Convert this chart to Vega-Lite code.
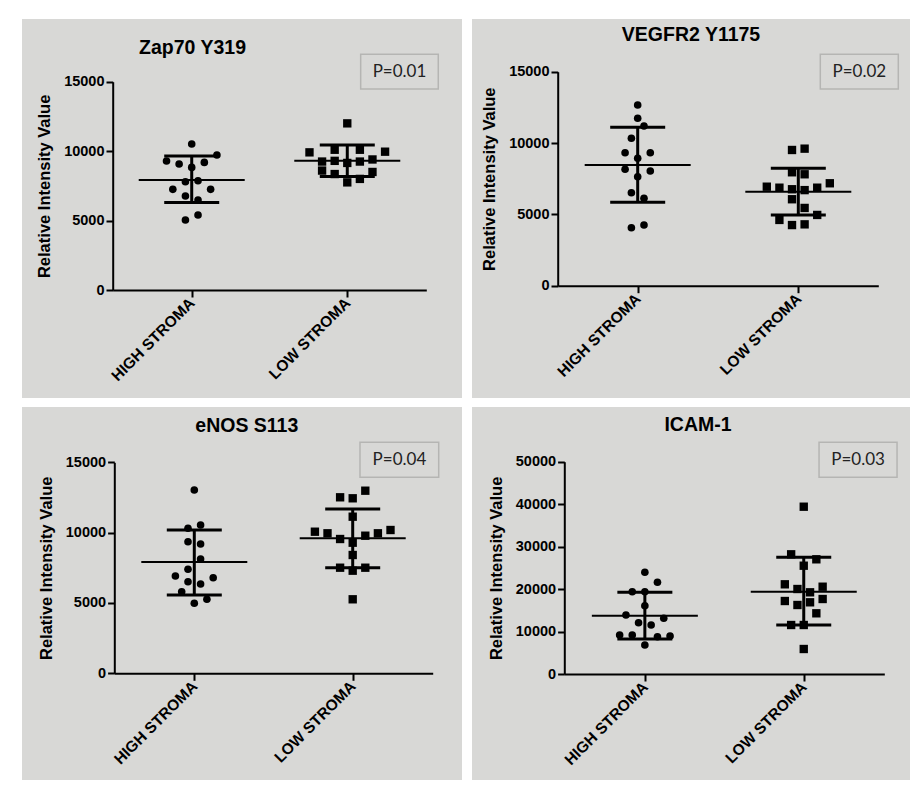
{
"$schema": "https://vega.github.io/schema/vega-lite/v6.json",
"background": "white",
"padding": {"left": 22, "top": 19, "right": 12, "bottom": 18},
"autosize": {"type": "pad"},
"config": {
  "view": {"fill": "#d8d8d6", "stroke": null},
  "font": "Liberation Sans",
  "axis": {"grid": false, "domainColor": "#000", "domainWidth": 2, "tickColor": "#000", "tickWidth": 2, "labelColor": "#000", "labelFont": "Liberation Sans", "labelFontWeight": "bold", "labelFontSize": 14.5, "titleFont": "Liberation Sans", "titleFontWeight": "bold", "titleColor": "#000"},
  "title": {"font": "Liberation Sans", "fontWeight": "bold", "fontSize": 19.5, "color": "#000", "anchor": "middle", "frame": "group", "baseline": "alphabetic"}
},
"datasets": {
  "points": [
    {"panel": "zap", "group": "HIGH STROMA", "value": 10510, "slot": 0},
    {"panel": "zap", "group": "HIGH STROMA", "value": 9720, "slot": 4},
    {"panel": "zap", "group": "HIGH STROMA", "value": 9290, "slot": -4},
    {"panel": "zap", "group": "HIGH STROMA", "value": 9070, "slot": -2},
    {"panel": "zap", "group": "HIGH STROMA", "value": 9190, "slot": 2},
    {"panel": "zap", "group": "HIGH STROMA", "value": 8830, "slot": 0},
    {"panel": "zap", "group": "HIGH STROMA", "value": 7800, "slot": -1},
    {"panel": "zap", "group": "HIGH STROMA", "value": 7870, "slot": 1},
    {"panel": "zap", "group": "HIGH STROMA", "value": 7250, "slot": -3},
    {"panel": "zap", "group": "HIGH STROMA", "value": 7250, "slot": 3},
    {"panel": "zap", "group": "HIGH STROMA", "value": 6770, "slot": -1},
    {"panel": "zap", "group": "HIGH STROMA", "value": 6480, "slot": 1},
    {"panel": "zap", "group": "HIGH STROMA", "value": 5400, "slot": 1},
    {"panel": "zap", "group": "HIGH STROMA", "value": 5040, "slot": -1},
    {"panel": "zap", "group": "LOW STROMA", "value": 12000, "slot": 0},
    {"panel": "zap", "group": "LOW STROMA", "value": 9912, "slot": -6},
    {"panel": "zap", "group": "LOW STROMA", "value": 9960, "slot": 6},
    {"panel": "zap", "group": "LOW STROMA", "value": 10100, "slot": -2},
    {"panel": "zap", "group": "LOW STROMA", "value": 10100, "slot": 2},
    {"panel": "zap", "group": "LOW STROMA", "value": 9250, "slot": -4},
    {"panel": "zap", "group": "LOW STROMA", "value": 9250, "slot": 2},
    {"panel": "zap", "group": "LOW STROMA", "value": 9400, "slot": 4},
    {"panel": "zap", "group": "LOW STROMA", "value": 9150, "slot": 0},
    {"panel": "zap", "group": "LOW STROMA", "value": 9300, "slot": -2},
    {"panel": "zap", "group": "LOW STROMA", "value": 8600, "slot": -4},
    {"panel": "zap", "group": "LOW STROMA", "value": 8350, "slot": -2},
    {"panel": "zap", "group": "LOW STROMA", "value": 8500, "slot": 4},
    {"panel": "zap", "group": "LOW STROMA", "value": 7750, "slot": 0},
    {"panel": "zap", "group": "LOW STROMA", "value": 8000, "slot": 2},
    {"panel": "vegfr", "group": "HIGH STROMA", "value": 12667, "slot": 0},
    {"panel": "vegfr", "group": "HIGH STROMA", "value": 11735, "slot": 0},
    {"panel": "vegfr", "group": "HIGH STROMA", "value": 11195, "slot": 1},
    {"panel": "vegfr", "group": "HIGH STROMA", "value": 10333, "slot": -1},
    {"panel": "vegfr", "group": "HIGH STROMA", "value": 9323, "slot": -2},
    {"panel": "vegfr", "group": "HIGH STROMA", "value": 9323, "slot": 2},
    {"panel": "vegfr", "group": "HIGH STROMA", "value": 8931, "slot": 0},
    {"panel": "vegfr", "group": "HIGH STROMA", "value": 8160, "slot": -2},
    {"panel": "vegfr", "group": "HIGH STROMA", "value": 8040, "slot": 2},
    {"panel": "vegfr", "group": "HIGH STROMA", "value": 7641, "slot": 0},
    {"panel": "vegfr", "group": "HIGH STROMA", "value": 6519, "slot": -1},
    {"panel": "vegfr", "group": "HIGH STROMA", "value": 6127, "slot": 1},
    {"panel": "vegfr", "group": "HIGH STROMA", "value": 4066, "slot": -1},
    {"panel": "vegfr", "group": "HIGH STROMA", "value": 4255, "slot": 1},
    {"panel": "vegfr", "group": "LOW STROMA", "value": 9513, "slot": -1},
    {"panel": "vegfr", "group": "LOW STROMA", "value": 9606, "slot": 1},
    {"panel": "vegfr", "group": "LOW STROMA", "value": 7950, "slot": -1},
    {"panel": "vegfr", "group": "LOW STROMA", "value": 7810, "slot": 1},
    {"panel": "vegfr", "group": "LOW STROMA", "value": 6940, "slot": -5},
    {"panel": "vegfr", "group": "LOW STROMA", "value": 6870, "slot": -3},
    {"panel": "vegfr", "group": "LOW STROMA", "value": 6870, "slot": 3},
    {"panel": "vegfr", "group": "LOW STROMA", "value": 7180, "slot": 5},
    {"panel": "vegfr", "group": "LOW STROMA", "value": 6760, "slot": -1},
    {"panel": "vegfr", "group": "LOW STROMA", "value": 6700, "slot": 1},
    {"panel": "vegfr", "group": "LOW STROMA", "value": 6060, "slot": -1},
    {"panel": "vegfr", "group": "LOW STROMA", "value": 5450, "slot": 1},
    {"panel": "vegfr", "group": "LOW STROMA", "value": 4610, "slot": -3},
    {"panel": "vegfr", "group": "LOW STROMA", "value": 4960, "slot": 3},
    {"panel": "vegfr", "group": "LOW STROMA", "value": 4250, "slot": -1},
    {"panel": "vegfr", "group": "LOW STROMA", "value": 4300, "slot": 1},
    {"panel": "enos", "group": "HIGH STROMA", "value": 13031, "slot": 0},
    {"panel": "enos", "group": "HIGH STROMA", "value": 10308, "slot": -1},
    {"panel": "enos", "group": "HIGH STROMA", "value": 10543, "slot": 1},
    {"panel": "enos", "group": "HIGH STROMA", "value": 9355, "slot": -1},
    {"panel": "enos", "group": "HIGH STROMA", "value": 9192, "slot": 1},
    {"panel": "enos", "group": "HIGH STROMA", "value": 8126, "slot": 1},
    {"panel": "enos", "group": "HIGH STROMA", "value": 7393, "slot": -1},
    {"panel": "enos", "group": "HIGH STROMA", "value": 6917, "slot": -3},
    {"panel": "enos", "group": "HIGH STROMA", "value": 6796, "slot": 3},
    {"panel": "enos", "group": "HIGH STROMA", "value": 6512, "slot": -1},
    {"panel": "enos", "group": "HIGH STROMA", "value": 6348, "slot": 1},
    {"panel": "enos", "group": "HIGH STROMA", "value": 5801, "slot": -2},
    {"panel": "enos", "group": "HIGH STROMA", "value": 4976, "slot": 0},
    {"panel": "enos", "group": "HIGH STROMA", "value": 5261, "slot": 2},
    {"panel": "enos", "group": "LOW STROMA", "value": 12512, "slot": -2},
    {"panel": "enos", "group": "LOW STROMA", "value": 12441, "slot": 0},
    {"panel": "enos", "group": "LOW STROMA", "value": 12981, "slot": 2},
    {"panel": "enos", "group": "LOW STROMA", "value": 11133, "slot": 0},
    {"panel": "enos", "group": "LOW STROMA", "value": 10066, "slot": -6},
    {"panel": "enos", "group": "LOW STROMA", "value": 9953, "slot": -4},
    {"panel": "enos", "group": "LOW STROMA", "value": 9953, "slot": 4},
    {"panel": "enos", "group": "LOW STROMA", "value": 10187, "slot": 6},
    {"panel": "enos", "group": "LOW STROMA", "value": 9547, "slot": -2},
    {"panel": "enos", "group": "LOW STROMA", "value": 9782, "slot": 2},
    {"panel": "enos", "group": "LOW STROMA", "value": 9284, "slot": 0},
    {"panel": "enos", "group": "LOW STROMA", "value": 8410, "slot": 0},
    {"panel": "enos", "group": "LOW STROMA", "value": 7507, "slot": -2},
    {"panel": "enos", "group": "LOW STROMA", "value": 7294, "slot": 0},
    {"panel": "enos", "group": "LOW STROMA", "value": 7507, "slot": 2},
    {"panel": "enos", "group": "LOW STROMA", "value": 5261, "slot": 0},
    {"panel": "icam", "group": "HIGH STROMA", "value": 23950, "slot": 0},
    {"panel": "icam", "group": "HIGH STROMA", "value": 21595, "slot": 2},
    {"panel": "icam", "group": "HIGH STROMA", "value": 19382, "slot": -2},
    {"panel": "icam", "group": "HIGH STROMA", "value": 19382, "slot": 0},
    {"panel": "icam", "group": "HIGH STROMA", "value": 16085, "slot": 0},
    {"panel": "icam", "group": "HIGH STROMA", "value": 13895, "slot": -3},
    {"panel": "icam", "group": "HIGH STROMA", "value": 13117, "slot": 3},
    {"panel": "icam", "group": "HIGH STROMA", "value": 12081, "slot": -1},
    {"panel": "icam", "group": "HIGH STROMA", "value": 11540, "slot": 1},
    {"panel": "icam", "group": "HIGH STROMA", "value": 9185, "slot": -4},
    {"panel": "icam", "group": "HIGH STROMA", "value": 9185, "slot": -2},
    {"panel": "icam", "group": "HIGH STROMA", "value": 8784, "slot": 2},
    {"panel": "icam", "group": "HIGH STROMA", "value": 8949, "slot": 4},
    {"panel": "icam", "group": "HIGH STROMA", "value": 6830, "slot": 0},
    {"panel": "icam", "group": "LOW STROMA", "value": 39399, "slot": 0},
    {"panel": "icam", "group": "LOW STROMA", "value": 28189, "slot": -2},
    {"panel": "icam", "group": "LOW STROMA", "value": 27012, "slot": 2},
    {"panel": "icam", "group": "LOW STROMA", "value": 25505, "slot": 0},
    {"panel": "icam", "group": "LOW STROMA", "value": 21124, "slot": -3},
    {"panel": "icam", "group": "LOW STROMA", "value": 20559, "slot": 3},
    {"panel": "icam", "group": "LOW STROMA", "value": 20018, "slot": -1},
    {"panel": "icam", "group": "LOW STROMA", "value": 19240, "slot": 1},
    {"panel": "icam", "group": "LOW STROMA", "value": 17192, "slot": -3},
    {"panel": "icam", "group": "LOW STROMA", "value": 17663, "slot": 3},
    {"panel": "icam", "group": "LOW STROMA", "value": 16250, "slot": -1},
    {"panel": "icam", "group": "LOW STROMA", "value": 16885, "slot": 1},
    {"panel": "icam", "group": "LOW STROMA", "value": 14295, "slot": 2},
    {"panel": "icam", "group": "LOW STROMA", "value": 11540, "slot": -2},
    {"panel": "icam", "group": "LOW STROMA", "value": 11540, "slot": 0},
    {"panel": "icam", "group": "LOW STROMA", "value": 5888, "slot": 0}
  ],
  "summary": [
    {"panel": "zap", "group": "HIGH STROMA", "mean": 7920, "lo": 6310, "hi": 9650},
    {"panel": "zap", "group": "LOW STROMA", "mean": 9310, "lo": 8180, "hi": 10440},
    {"panel": "vegfr", "group": "HIGH STROMA", "mean": 8460, "lo": 5850, "hi": 11100},
    {"panel": "vegfr", "group": "LOW STROMA", "mean": 6590, "lo": 4956, "hi": 8230},
    {"panel": "enos", "group": "HIGH STROMA", "mean": 7920, "lo": 5570, "hi": 10190},
    {"panel": "enos", "group": "LOW STROMA", "mean": 9600, "lo": 7507, "hi": 11680},
    {"panel": "icam", "group": "HIGH STROMA", "mean": 13730, "lo": 8243, "hi": 19240},
    {"panel": "icam", "group": "LOW STROMA", "mean": 19382, "lo": 11540, "hi": 27483}
  ],
  "pvals": [
    {"panel": "zap", "p": "P=0.01"},
    {"panel": "vegfr", "p": "P=0.02"},
    {"panel": "enos", "p": "P=0.04"},
    {"panel": "icam", "p": "P=0.03"}
  ]
},
"spacing": 9,
"vconcat": [
 {"spacing": 10, "hconcat": [
  {
   "width": 440, "height": 379,
   "title": {"text": "Zap70 Y319", "dx": -49.5, "offset": -39.3},
   "layer": [
    {"data": {"name": "points"}, "transform": [{"filter": "datum.panel == 'zap'"}],
     "mark": {"type": "point", "filled": true, "opacity": 1, "color": "#000"},
     "encoding": {
      "x": {"field": "group", "type": "nominal", "scale": {"type": "point", "domain": ["HIGH STROMA", "LOW STROMA"], "range": [90.7, 404.3], "padding": 0.508}, "axis": {"title": null, "offset": -108, "labelAngle": -45, "labelAlign": "right", "labelBaseline": "middle", "labelFontSize": 15.5, "tickSize": 7, "labelPadding": 3}},
      "xOffset": {"field": "slot", "type": "quantitative", "scale": {"domain": [-6, 6], "range": [-37.8, 37.8]}},
      "y": {"field": "value", "type": "quantitative", "scale": {"domain": [0, 15000], "range": [271, 62.7], "nice": false}, "axis": {"title": "Relative Intensity Value", "values": [0, 5000, 10000, 15000], "format": "d", "offset": -90.7, "tickSize": 6.7, "labelPadding": 2, "titleFontSize": 16.5, "titlePadding": 11}},
      "shape": {"field": "group", "type": "nominal", "scale": {"domain": ["HIGH STROMA", "LOW STROMA"], "range": ["circle", "square"]}, "legend": null},
      "size": {"field": "group", "type": "nominal", "scale": {"domain": ["HIGH STROMA", "LOW STROMA"], "range": [58, 70]}, "legend": null}
     }},
    {"data": {"name": "summary"}, "transform": [{"filter": "datum.panel == 'zap'"}],
     "mark": {"type": "rule", "strokeWidth": 3, "color": "#000"},
     "encoding": {"x": {"field": "group", "type": "nominal"}, "y": {"field": "lo", "type": "quantitative"}, "y2": {"field": "hi"}}},
    {"data": {"name": "summary"}, "transform": [{"filter": "datum.panel == 'zap'"}],
     "mark": {"type": "tick", "thickness": 2, "size": 106, "color": "#000", "opacity": 1},
     "encoding": {"x": {"field": "group", "type": "nominal"}, "y": {"field": "mean", "type": "quantitative"}}},
    {"data": {"name": "summary"}, "transform": [{"filter": "datum.panel == 'zap'"}],
     "mark": {"type": "tick", "thickness": 3, "size": 55, "color": "#000", "opacity": 1},
     "encoding": {"x": {"field": "group", "type": "nominal"}, "y": {"field": "lo", "type": "quantitative"}}},
    {"data": {"name": "summary"}, "transform": [{"filter": "datum.panel == 'zap'"}],
     "mark": {"type": "tick", "thickness": 3, "size": 55, "color": "#000", "opacity": 1},
     "encoding": {"x": {"field": "group", "type": "nominal"}, "y": {"field": "hi", "type": "quantitative"}}},
    {"data": {"name": "pvals"}, "transform": [{"filter": "datum.panel == 'zap'"}],
     "mark": {"type": "rect", "fill": "#d8d8d6", "stroke": "#b5b5b3", "strokeWidth": 1.5, "xOffset": 13.4, "x2Offset": 91},
     "encoding": {"x": {"datum": "LOW STROMA"}, "x2": {"datum": "LOW STROMA"}, "y": {"datum": 16972}, "y2": {"datum": 14473}}},
    {"data": {"name": "pvals"}, "transform": [{"filter": "datum.panel == 'zap'"}],
     "mark": {"type": "text", "font": "Lato", "fontSize": 17, "color": "#222", "dx": 52.2, "baseline": "middle", "align": "center"},
     "encoding": {"x": {"datum": "LOW STROMA"}, "y": {"datum": 15718}, "text": {"field": "p"}}}
   ]
  },
  {
   "width": 438, "height": 379,
   "title": {"text": "VEGFR2 Y1175", "dx": 0, "offset": -26},
   "layer": [
    {"data": {"name": "points"}, "transform": [{"filter": "datum.panel == 'vegfr'"}],
     "mark": {"type": "point", "filled": true, "opacity": 1, "color": "#000"},
     "encoding": {
      "x": {"field": "group", "type": "nominal", "scale": {"type": "point", "domain": ["HIGH STROMA", "LOW STROMA"], "range": [85.7, 406.3], "padding": 0.498}, "axis": {"title": null, "offset": -112.3, "labelAngle": -45, "labelAlign": "right", "labelBaseline": "middle", "labelFontSize": 15.5, "tickSize": 7, "labelPadding": 3}},
      "xOffset": {"field": "slot", "type": "quantitative", "scale": {"domain": [-6, 6], "range": [-37.8, 37.8]}},
      "y": {"field": "value", "type": "quantitative", "scale": {"domain": [0, 15000], "range": [266.7, 52.7], "nice": false}, "axis": {"title": "Relative Intensity Value", "values": [0, 5000, 10000, 15000], "format": "d", "offset": -85.7, "tickSize": 6.7, "labelPadding": 2, "titleFontSize": 16.5, "titlePadding": 11}},
      "shape": {"field": "group", "type": "nominal", "scale": {"domain": ["HIGH STROMA", "LOW STROMA"], "range": ["circle", "square"]}, "legend": null},
      "size": {"field": "group", "type": "nominal", "scale": {"domain": ["HIGH STROMA", "LOW STROMA"], "range": [58, 70]}, "legend": null}
     }},
    {"data": {"name": "summary"}, "transform": [{"filter": "datum.panel == 'vegfr'"}],
     "mark": {"type": "rule", "strokeWidth": 3, "color": "#000"},
     "encoding": {"x": {"field": "group", "type": "nominal"}, "y": {"field": "lo", "type": "quantitative"}, "y2": {"field": "hi"}}},
    {"data": {"name": "summary"}, "transform": [{"filter": "datum.panel == 'vegfr'"}],
     "mark": {"type": "tick", "thickness": 2, "size": 106, "color": "#000", "opacity": 1},
     "encoding": {"x": {"field": "group", "type": "nominal"}, "y": {"field": "mean", "type": "quantitative"}}},
    {"data": {"name": "summary"}, "transform": [{"filter": "datum.panel == 'vegfr'"}],
     "mark": {"type": "tick", "thickness": 3, "size": 55, "color": "#000", "opacity": 1},
     "encoding": {"x": {"field": "group", "type": "nominal"}, "y": {"field": "lo", "type": "quantitative"}}},
    {"data": {"name": "summary"}, "transform": [{"filter": "datum.panel == 'vegfr'"}],
     "mark": {"type": "tick", "thickness": 3, "size": 55, "color": "#000", "opacity": 1},
     "encoding": {"x": {"field": "group", "type": "nominal"}, "y": {"field": "hi", "type": "quantitative"}}},
    {"data": {"name": "pvals"}, "transform": [{"filter": "datum.panel == 'vegfr'"}],
     "mark": {"type": "rect", "fill": "#d8d8d6", "stroke": "#b5b5b3", "strokeWidth": 1.5, "xOffset": 22, "x2Offset": 100},
     "encoding": {"x": {"datum": "LOW STROMA"}, "x2": {"datum": "LOW STROMA"}, "y": {"datum": 16219}, "y2": {"datum": 13787}}},
    {"data": {"name": "pvals"}, "transform": [{"filter": "datum.panel == 'vegfr'"}],
     "mark": {"type": "text", "font": "Lato", "fontSize": 17, "color": "#222", "dx": 61, "baseline": "middle", "align": "center"},
     "encoding": {"x": {"datum": "LOW STROMA"}, "y": {"datum": 15003}, "text": {"field": "p"}}}
   ]
  }
 ]},
 {"spacing": 10, "hconcat": [
  {
   "width": 440, "height": 373,
   "title": {"text": "eNOS S113", "dx": 4.8, "offset": -29.7},
   "layer": [
    {"data": {"name": "points"}, "transform": [{"filter": "datum.panel == 'enos'"}],
     "mark": {"type": "point", "filled": true, "opacity": 1, "color": "#000"},
     "encoding": {
      "x": {"field": "group", "type": "nominal", "scale": {"type": "point", "domain": ["HIGH STROMA", "LOW STROMA"], "range": [92.3, 410.7], "padding": 0.505}, "axis": {"title": null, "offset": -106.7, "labelAngle": -45, "labelAlign": "right", "labelBaseline": "middle", "labelFontSize": 15.5, "tickSize": 7, "labelPadding": 3}},
      "xOffset": {"field": "slot", "type": "quantitative", "scale": {"domain": [-6, 6], "range": [-37.8, 37.8]}},
      "y": {"field": "value", "type": "quantitative", "scale": {"domain": [0, 15000], "range": [266.3, 55.3], "nice": false}, "axis": {"title": "Relative Intensity Value", "values": [0, 5000, 10000, 15000], "format": "d", "offset": -92.3, "tickSize": 6.7, "labelPadding": 2, "titleFontSize": 16.5, "titlePadding": 11}},
      "shape": {"field": "group", "type": "nominal", "scale": {"domain": ["HIGH STROMA", "LOW STROMA"], "range": ["circle", "square"]}, "legend": null},
      "size": {"field": "group", "type": "nominal", "scale": {"domain": ["HIGH STROMA", "LOW STROMA"], "range": [58, 70]}, "legend": null}
     }},
    {"data": {"name": "summary"}, "transform": [{"filter": "datum.panel == 'enos'"}],
     "mark": {"type": "rule", "strokeWidth": 3, "color": "#000"},
     "encoding": {"x": {"field": "group", "type": "nominal"}, "y": {"field": "lo", "type": "quantitative"}, "y2": {"field": "hi"}}},
    {"data": {"name": "summary"}, "transform": [{"filter": "datum.panel == 'enos'"}],
     "mark": {"type": "tick", "thickness": 2, "size": 106, "color": "#000", "opacity": 1},
     "encoding": {"x": {"field": "group", "type": "nominal"}, "y": {"field": "mean", "type": "quantitative"}}},
    {"data": {"name": "summary"}, "transform": [{"filter": "datum.panel == 'enos'"}],
     "mark": {"type": "tick", "thickness": 3, "size": 55, "color": "#000", "opacity": 1},
     "encoding": {"x": {"field": "group", "type": "nominal"}, "y": {"field": "lo", "type": "quantitative"}}},
    {"data": {"name": "summary"}, "transform": [{"filter": "datum.panel == 'enos'"}],
     "mark": {"type": "tick", "thickness": 3, "size": 55, "color": "#000", "opacity": 1},
     "encoding": {"x": {"field": "group", "type": "nominal"}, "y": {"field": "hi", "type": "quantitative"}}},
    {"data": {"name": "pvals"}, "transform": [{"filter": "datum.panel == 'enos'"}],
     "mark": {"type": "rect", "fill": "#d8d8d6", "stroke": "#b5b5b3", "strokeWidth": 1.5, "xOffset": 7.3, "x2Offset": 86},
     "encoding": {"x": {"datum": "LOW STROMA"}, "x2": {"datum": "LOW STROMA"}, "y": {"datum": 16422}, "y2": {"datum": 13934}}},
    {"data": {"name": "pvals"}, "transform": [{"filter": "datum.panel == 'enos'"}],
     "mark": {"type": "text", "font": "Lato", "fontSize": 17, "color": "#222", "dx": 46.7, "baseline": "middle", "align": "center"},
     "encoding": {"x": {"datum": "LOW STROMA"}, "y": {"datum": 15178}, "text": {"field": "p"}}}
   ]
  },
  {
   "width": 438, "height": 373,
   "title": {"text": "ICAM-1", "dx": 7, "offset": -28},
   "layer": [
    {"data": {"name": "points"}, "transform": [{"filter": "datum.panel == 'icam'"}],
     "mark": {"type": "point", "filled": true, "opacity": 1, "color": "#000"},
     "encoding": {
      "x": {"field": "group", "type": "nominal", "scale": {"type": "point", "domain": ["HIGH STROMA", "LOW STROMA"], "range": [92.3, 412.3], "padding": 0.507}, "axis": {"title": null, "offset": -106, "labelAngle": -45, "labelAlign": "right", "labelBaseline": "middle", "labelFontSize": 15.5, "tickSize": 7, "labelPadding": 3}},
      "xOffset": {"field": "slot", "type": "quantitative", "scale": {"domain": [-6, 6], "range": [-37.8, 37.8]}},
      "y": {"field": "value", "type": "quantitative", "scale": {"domain": [0, 50000], "range": [267, 54.7], "nice": false}, "axis": {"title": "Relative Intensity Value", "values": [0, 10000, 20000, 30000, 40000, 50000], "format": "d", "offset": -92.3, "tickSize": 6.7, "labelPadding": 2, "titleFontSize": 16.5, "titlePadding": 11}},
      "shape": {"field": "group", "type": "nominal", "scale": {"domain": ["HIGH STROMA", "LOW STROMA"], "range": ["circle", "square"]}, "legend": null},
      "size": {"field": "group", "type": "nominal", "scale": {"domain": ["HIGH STROMA", "LOW STROMA"], "range": [58, 70]}, "legend": null}
     }},
    {"data": {"name": "summary"}, "transform": [{"filter": "datum.panel == 'icam'"}],
     "mark": {"type": "rule", "strokeWidth": 3, "color": "#000"},
     "encoding": {"x": {"field": "group", "type": "nominal"}, "y": {"field": "lo", "type": "quantitative"}, "y2": {"field": "hi"}}},
    {"data": {"name": "summary"}, "transform": [{"filter": "datum.panel == 'icam'"}],
     "mark": {"type": "tick", "thickness": 2, "size": 106, "color": "#000", "opacity": 1},
     "encoding": {"x": {"field": "group", "type": "nominal"}, "y": {"field": "mean", "type": "quantitative"}}},
    {"data": {"name": "summary"}, "transform": [{"filter": "datum.panel == 'icam'"}],
     "mark": {"type": "tick", "thickness": 3, "size": 55, "color": "#000", "opacity": 1},
     "encoding": {"x": {"field": "group", "type": "nominal"}, "y": {"field": "lo", "type": "quantitative"}}},
    {"data": {"name": "summary"}, "transform": [{"filter": "datum.panel == 'icam'"}],
     "mark": {"type": "tick", "thickness": 3, "size": 55, "color": "#000", "opacity": 1},
     "encoding": {"x": {"field": "group", "type": "nominal"}, "y": {"field": "hi", "type": "quantitative"}}},
    {"data": {"name": "pvals"}, "transform": [{"filter": "datum.panel == 'icam'"}],
     "mark": {"type": "rect", "fill": "#d8d8d6", "stroke": "#b5b5b3", "strokeWidth": 1.5, "xOffset": 15.3, "x2Offset": 93.3},
     "encoding": {"x": {"datum": "LOW STROMA"}, "x2": {"datum": "LOW STROMA"}, "y": {"datum": 54565}, "y2": {"datum": 46323}}},
    {"data": {"name": "pvals"}, "transform": [{"filter": "datum.panel == 'icam'"}],
     "mark": {"type": "text", "font": "Lato", "fontSize": 17, "color": "#222", "dx": 54.3, "baseline": "middle", "align": "center"},
     "encoding": {"x": {"datum": "LOW STROMA"}, "y": {"datum": 50444}, "text": {"field": "p"}}}
   ]
  }
 ]}
]
}
